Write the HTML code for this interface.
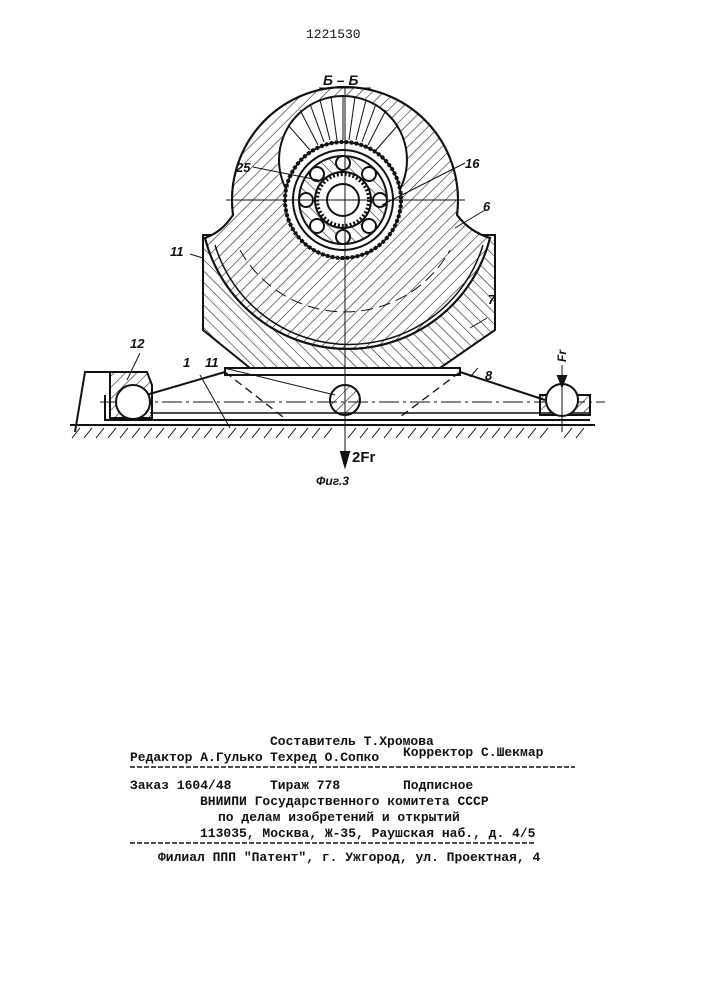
<!DOCTYPE html>
<html><head><meta charset="utf-8"><style>
body{margin:0;background:#fff;width:707px;height:1000px;overflow:hidden}
svg{position:absolute;left:0;top:0}
.t{position:absolute;font-family:"Liberation Mono","DejaVu Sans Mono",monospace;font-size:13px;color:#111;white-space:pre;font-weight:bold}
</style></head><body>
<svg width="707" height="1000" viewBox="0 0 707 1000">
<defs>
<pattern id="h" width="8" height="8" patternUnits="userSpaceOnUse" patternTransform="rotate(45)"><line x1="0" y1="0" x2="0" y2="8" stroke="#222" stroke-width="1.2"/></pattern>
<pattern id="h2" width="8" height="8" patternUnits="userSpaceOnUse" patternTransform="rotate(-45)"><line x1="0" y1="0" x2="0" y2="8" stroke="#222" stroke-width="1.2"/></pattern>
</defs>
<g stroke="#111" stroke-width="2" fill="none">
<path d="M203,235 L203,330 L250,368 L440,368 L495,330 L495,235 Z" fill="url(#h2)"/>
<path d="M205,238 A147,147 0 0 0 490,238 Q470,232 457,215 A113,113 0 1 0 233,215 Q222,232 205,238 Z" fill="#fff"/>
<path d="M205,238 A147,147 0 0 0 490,238 Q470,232 457,215 A113,113 0 1 0 233,215 Q222,232 205,238 Z" fill="url(#h)"/>
<circle cx="343" cy="160" r="64" fill="#fff"/>
<g stroke-width="1">
<line x1="343" y1="96" x2="343" y2="140"/><line x1="320" y1="100" x2="330" y2="140"/><line x1="366" y1="100" x2="356" y2="140"/>
<line x1="300" y1="110" x2="318" y2="145"/><line x1="386" y1="110" x2="368" y2="145"/><line x1="288" y1="125" x2="310" y2="150"/><line x1="398" y1="125" x2="376" y2="150"/>
<line x1="331" y1="97" x2="337" y2="140"/><line x1="355" y1="97" x2="349" y2="140"/><line x1="310" y1="104" x2="324" y2="142"/><line x1="376" y1="104" x2="362" y2="142"/>
</g>
<circle cx="343" cy="200" r="58" fill="#fff"/>
<circle cx="343" cy="200" r="58" stroke-dasharray="3 2" stroke-width="4"/>
<circle cx="343" cy="200" r="50"/>
<circle cx="343" cy="200" r="44" fill="url(#h2)"/>
<circle cx="343" cy="200" r="28" fill="#fff"/>
<circle cx="343" cy="200" r="26" stroke-dasharray="2 2" stroke-width="4"/>
<circle cx="343" cy="200" r="16" fill="#fff"/>
<g fill="#fff">
<circle cx="343" cy="163" r="7"/><circle cx="343" cy="237" r="7"/><circle cx="306" cy="200" r="7"/><circle cx="380" cy="200" r="7"/>
<circle cx="317" cy="174" r="7"/><circle cx="369" cy="174" r="7"/><circle cx="317" cy="226" r="7"/><circle cx="369" cy="226" r="7"/>
</g>
<path d="M215,245 A140,140 0 0 0 483,245" stroke-width="1.5"/>
<path d="M240,250 A120,120 0 0 0 450,250" stroke-width="1" stroke-dasharray="12 6"/>
<path d="M225,368 L460,368 L460,375 L225,375 Z" fill="#fff"/>
<line x1="225" y1="372" x2="122" y2="402"/><line x1="460" y1="372" x2="545" y2="400"/>
<line x1="225" y1="372" x2="283" y2="417" stroke-dasharray="8 5" stroke-width="1.3"/>
<line x1="460" y1="372" x2="400" y2="417" stroke-dasharray="8 5" stroke-width="1.3"/>
<path d="M105,395 L105,420 L590,420" />
<path d="M150,413 L590,413 L590,395" stroke-width="1.5"/>
<line x1="100" y1="402" x2="605" y2="402" stroke-width="1" stroke-dasharray="20 4 3 4"/>
<path d="M75,432 L85,372 L110,372" />
<path d="M110,372 L147,372 L152,385 L152,418 L110,418 Z" fill="url(#h)"/>
<circle cx="133" cy="402" r="17" fill="#fff"/>
<path d="M540,395 L590,395 L590,415 L540,415 Z" fill="url(#h)"/>
<circle cx="562" cy="400" r="16" fill="#fff"/>
<circle cx="345" cy="400" r="15" fill="url(#h)"/>
<line x1="70" y1="425" x2="595" y2="425"/>
<g stroke-width="1">
<path d="M80,428 l-8,10 M92,428 l-8,10 M104,428 l-8,10 M116,428 l-8,10 M128,428 l-8,10 M140,428 l-8,10 M152,428 l-8,10 M164,428 l-8,10 M176,428 l-8,10 M188,428 l-8,10 M200,428 l-8,10 M212,428 l-8,10 M224,428 l-8,10 M236,428 l-8,10 M248,428 l-8,10 M260,428 l-8,10 M272,428 l-8,10 M284,428 l-8,10 M296,428 l-8,10 M308,428 l-8,10 M320,428 l-8,10 M332,428 l-8,10 M356,428 l-8,10 M368,428 l-8,10 M380,428 l-8,10 M392,428 l-8,10 M404,428 l-8,10 M416,428 l-8,10 M428,428 l-8,10 M440,428 l-8,10 M452,428 l-8,10 M464,428 l-8,10 M476,428 l-8,10 M488,428 l-8,10 M500,428 l-8,10 M512,428 l-8,10 M524,428 l-8,10 M536,428 l-8,10 M548,428 l-8,10 M572,428 l-8,10 M584,428 l-8,10"/>
<line x1="345" y1="88" x2="345" y2="460"/>
<line x1="226" y1="200" x2="465" y2="200"/>
<line x1="562" y1="365" x2="562" y2="432"/>
<line x1="319" y1="88" x2="371" y2="88"/>
<line x1="253" y1="167" x2="318" y2="180"/><line x1="465" y1="163" x2="382" y2="205"/>
<line x1="485" y1="210" x2="455" y2="228"/><line x1="487" y1="318" x2="470" y2="328"/>
<line x1="190" y1="254" x2="203" y2="258"/><line x1="140" y1="353" x2="127" y2="380"/>
<line x1="224" y1="368" x2="335" y2="395"/><line x1="200" y1="375" x2="230" y2="428"/><line x1="478" y1="368" x2="470" y2="377"/>
</g>
<path d="M341,452 L345,466 L349,452 Z" fill="#111"/>
<path d="M558,376 L562,386 L566,376 Z" fill="#111"/>
</g>
<g font-family="Liberation Sans, sans-serif" font-style="italic" font-weight="bold" font-size="13" fill="#111">
<text x="323" y="85" font-size="14">Б – Б</text>
<text x="236" y="172">25</text><text x="465" y="168">16</text><text x="483" y="211">6</text>
<text x="170" y="256">11</text><text x="488" y="304">7</text><text x="130" y="348">12</text>
<text x="183" y="367">1</text><text x="205" y="367">11</text><text x="485" y="380">8</text>
<text x="352" y="462" font-size="15" font-style="normal">2Fr</text>
<text x="316" y="485" font-size="12">Фиг.3</text>
<text transform="translate(566,362) rotate(-90)" font-size="12">Fr</text>
</g>
<g stroke="#111" stroke-width="1.5" stroke-dasharray="5 2"><line x1="130" y1="767" x2="575" y2="767"/><line x1="130" y1="843" x2="535" y2="843"/></g>
</svg>
<div class="t" style="left:306px;top:27px;font-weight:normal">1221530</div>
<div class="t" style="left:270px;top:734px">Составитель Т.Хромова</div>
<div class="t" style="left:130px;top:750px">Редактор А.Гулько</div>
<div class="t" style="left:270px;top:750px">Техред О.Сопко</div>
<div class="t" style="left:403px;top:745px">Корректор С.Шекмар</div>
<div class="t" style="left:130px;top:778px">Заказ 1604/48</div>
<div class="t" style="left:270px;top:778px">Тираж 778</div>
<div class="t" style="left:403px;top:778px">Подписное</div>
<div class="t" style="left:200px;top:794px">ВНИИПИ Государственного комитета СССР</div>
<div class="t" style="left:218px;top:810px">по делам изобретений и открытий</div>
<div class="t" style="left:200px;top:826px">113035, Москва, Ж-35, Раушская наб., д. 4/5</div>
<div class="t" style="left:158px;top:850px">Филиал ППП "Патент", г. Ужгород, ул. Проектная, 4</div>
</body></html>
